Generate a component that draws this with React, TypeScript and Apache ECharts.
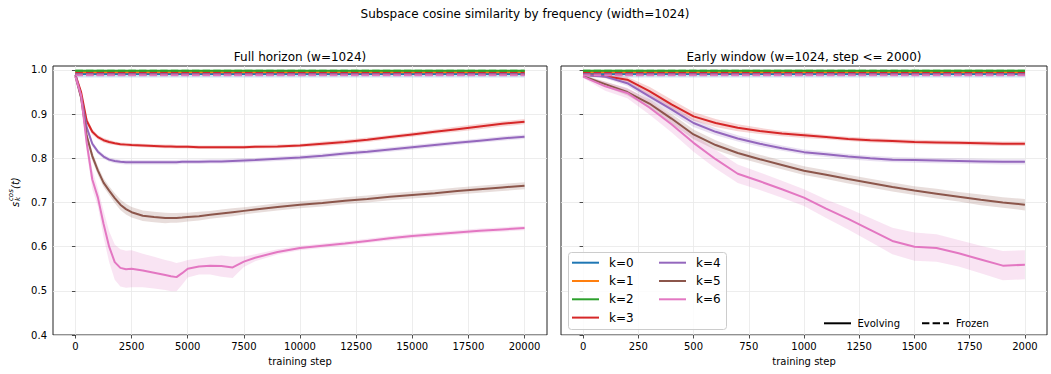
import React, { useEffect, useRef } from "react";
import * as echarts from "echarts";

// ---------- data ----------
const COLORS = ["#1f77b4", "#ff7f0e", "#2ca02c", "#d62728", "#9467bd", "#8c564b", "#e377c2"];
const K_LABELS = ["k=0", "k=1", "k=2", "k=3", "k=4", "k=5", "k=6"];

const MAIN_TITLE = "Subspace cosine similarity by frequency (width=1024)";
const PANEL_TITLES = ["Full horizon (w=1024)", "Early window (w=1024, step <= 2000)"];
const X_NAME = "training step";

const FULL_TICKS = [0, 2500, 5000, 7500, 10000, 12500, 15000, 17500, 20000];
const EARLY_TICKS = [0, 250, 500, 750, 1000, 1250, 1500, 1750, 2000];
const Y_TICKS = [0.4, 0.5, 0.6, 0.7, 0.8, 0.9, 1.0];
const FULL_RANGE = [0, 20000];
const EARLY_RANGE = [0, 2000];

// frozen (dashed) levels per k, and evolving levels for the stable low-frequency k=0..2
const FROZEN_LEVELS = [0.996, 0.997, 0.998, 0.993, 0.991, 0.989, 0.988];
const STABLE_LEVELS = [0.991, 0.995, 0.998];
const STABLE_STD = [0.008, 0.002, 0.002];

// full horizon
const FULL_STEPS = [0, 250, 500, 750, 1000, 1250, 1500, 1750, 2000, 2250, 2500, 3000, 3500, 4000, 4250, 4500, 4750, 5000, 5500, 6000, 6500, 7000, 7500, 8000, 9000, 10000, 11000, 12000, 13000, 14000, 15000, 16000, 17000, 18000, 19000, 20000];
const FULL_K3 = [0.989, 0.950, 0.885, 0.860, 0.848, 0.841, 0.837, 0.834, 0.832, 0.831, 0.830, 0.829, 0.828, 0.827, 0.827, 0.826, 0.826, 0.826, 0.825, 0.825, 0.825, 0.825, 0.825, 0.826, 0.827, 0.829, 0.833, 0.837, 0.842, 0.848, 0.854, 0.860, 0.866, 0.872, 0.878, 0.883];
const FULL_K3_STD = [0.002, 0.006, 0.008, 0.006, 0.005, 0.005, 0.005, 0.004, 0.004, 0.004, 0.004, 0.004, 0.004, 0.004, 0.004, 0.004, 0.004, 0.004, 0.004, 0.004, 0.004, 0.004, 0.004, 0.004, 0.004, 0.004, 0.005, 0.005, 0.005, 0.005, 0.005, 0.005, 0.006, 0.006, 0.006, 0.006];
const FULL_K4 = [0.989, 0.940, 0.870, 0.833, 0.815, 0.804, 0.797, 0.794, 0.792, 0.791, 0.791, 0.791, 0.791, 0.791, 0.791, 0.791, 0.792, 0.792, 0.792, 0.793, 0.793, 0.794, 0.795, 0.796, 0.799, 0.802, 0.806, 0.811, 0.815, 0.820, 0.825, 0.830, 0.835, 0.840, 0.845, 0.849];
const FULL_K4_STD = [0.002, 0.006, 0.007, 0.006, 0.005, 0.005, 0.005, 0.005, 0.005, 0.005, 0.005, 0.005, 0.005, 0.005, 0.005, 0.005, 0.005, 0.005, 0.005, 0.005, 0.005, 0.005, 0.005, 0.005, 0.005, 0.005, 0.005, 0.005, 0.005, 0.005, 0.005, 0.005, 0.005, 0.005, 0.005, 0.005];
const FULL_K5 = [0.986, 0.937, 0.851, 0.805, 0.772, 0.745, 0.727, 0.710, 0.695, 0.685, 0.678, 0.670, 0.667, 0.665, 0.665, 0.665, 0.666, 0.667, 0.669, 0.672, 0.675, 0.678, 0.681, 0.684, 0.690, 0.695, 0.699, 0.704, 0.708, 0.713, 0.717, 0.721, 0.726, 0.730, 0.734, 0.738];
const FULL_K5_STD = [0.002, 0.008, 0.010, 0.010, 0.010, 0.010, 0.010, 0.011, 0.012, 0.012, 0.012, 0.012, 0.012, 0.012, 0.011, 0.011, 0.011, 0.010, 0.010, 0.009, 0.009, 0.009, 0.008, 0.008, 0.008, 0.008, 0.008, 0.008, 0.008, 0.008, 0.008, 0.008, 0.008, 0.008, 0.008, 0.008];
const FULL_K6 = [0.985, 0.942, 0.835, 0.752, 0.711, 0.652, 0.600, 0.565, 0.552, 0.549, 0.550, 0.546, 0.541, 0.536, 0.533, 0.531, 0.540, 0.550, 0.555, 0.557, 0.556, 0.553, 0.566, 0.575, 0.588, 0.597, 0.602, 0.607, 0.613, 0.619, 0.624, 0.628, 0.632, 0.636, 0.639, 0.642];
const FULL_K6_STD = [0.003, 0.012, 0.020, 0.022, 0.020, 0.030, 0.035, 0.040, 0.042, 0.042, 0.042, 0.038, 0.036, 0.034, 0.034, 0.032, 0.026, 0.020, 0.018, 0.020, 0.024, 0.024, 0.012, 0.008, 0.006, 0.005, 0.005, 0.005, 0.005, 0.005, 0.005, 0.005, 0.005, 0.005, 0.005, 0.005];

// early window
const EARLY_STEPS = [0, 100, 200, 300, 400, 500, 600, 700, 800, 900, 1000, 1100, 1200, 1300, 1400, 1500, 1600, 1700, 1800, 1900, 2000];
const EARLY_K3 = [0.989, 0.986, 0.978, 0.952, 0.922, 0.895, 0.880, 0.869, 0.862, 0.856, 0.852, 0.848, 0.844, 0.841, 0.839, 0.837, 0.836, 0.835, 0.834, 0.833, 0.833];
const EARLY_K3_STD = [0.002, 0.004, 0.006, 0.010, 0.011, 0.010, 0.009, 0.008, 0.007, 0.006, 0.006, 0.005, 0.005, 0.005, 0.005, 0.005, 0.005, 0.005, 0.005, 0.005, 0.005];
const EARLY_K4 = [0.989, 0.985, 0.970, 0.940, 0.911, 0.880, 0.860, 0.845, 0.833, 0.823, 0.814, 0.809, 0.804, 0.800, 0.797, 0.796, 0.795, 0.794, 0.793, 0.792, 0.792];
const EARLY_K4_STD = [0.002, 0.004, 0.006, 0.008, 0.009, 0.009, 0.008, 0.007, 0.007, 0.006, 0.006, 0.006, 0.006, 0.006, 0.006, 0.006, 0.006, 0.006, 0.006, 0.006, 0.006];
const EARLY_K5 = [0.986, 0.968, 0.950, 0.924, 0.890, 0.854, 0.830, 0.812, 0.798, 0.785, 0.772, 0.763, 0.753, 0.744, 0.735, 0.727, 0.720, 0.713, 0.706, 0.700, 0.695];
const EARLY_K5_STD = [0.002, 0.006, 0.008, 0.010, 0.011, 0.011, 0.011, 0.010, 0.010, 0.010, 0.010, 0.010, 0.010, 0.010, 0.010, 0.010, 0.011, 0.011, 0.012, 0.012, 0.013];
const EARLY_K6 = [0.985, 0.963, 0.948, 0.915, 0.877, 0.835, 0.798, 0.765, 0.748, 0.730, 0.711, 0.686, 0.663, 0.638, 0.613, 0.600, 0.597, 0.585, 0.571, 0.557, 0.559];
const EARLY_K6_STD = [0.003, 0.010, 0.012, 0.016, 0.018, 0.020, 0.021, 0.021, 0.020, 0.019, 0.019, 0.021, 0.024, 0.027, 0.030, 0.032, 0.031, 0.030, 0.031, 0.033, 0.033];

const LEGEND_MODES = ["Evolving", "Frozen"];

// ---------- helpers ----------
const FONT = "DejaVu Sans";
const DASH = [7.4, 3.2];

function rgba(hex: string, a: number) {
  const n = parseInt(hex.slice(1), 16);
  return `rgba(${(n >> 16) & 255},${(n >> 8) & 255},${n & 255},${a})`;
}

type Curve = { xs: number[]; mean: number[]; std: number[] };

function panelCurves(panel: number): Curve[] {
  const range = panel === 0 ? FULL_RANGE : EARLY_RANGE;
  const steps = panel === 0 ? FULL_STEPS : EARLY_STEPS;
  const dyn = panel === 0
    ? [[FULL_K3, FULL_K3_STD], [FULL_K4, FULL_K4_STD], [FULL_K5, FULL_K5_STD], [FULL_K6, FULL_K6_STD]]
    : [[EARLY_K3, EARLY_K3_STD], [EARLY_K4, EARLY_K4_STD], [EARLY_K5, EARLY_K5_STD], [EARLY_K6, EARLY_K6_STD]];
  const out: Curve[] = [];
  for (let k = 0; k < 3; k++) {
    out.push({ xs: range, mean: [STABLE_LEVELS[k], STABLE_LEVELS[k]], std: [STABLE_STD[k], STABLE_STD[k]] });
  }
  for (const [m, s] of dyn) out.push({ xs: steps, mean: m, std: s });
  return out;
}

function buildSeries() {
  const series: any[] = [];
  for (let p = 0; p < 2; p++) {
    const range = p === 0 ? FULL_RANGE : EARLY_RANGE;
    const curves = panelCurves(p);
    curves.forEach((c, k) => {
      const color = COLORS[k];
      series.push({
        type: "custom",
        xAxisIndex: p,
        yAxisIndex: p,
        silent: true,
        data: [[c.xs[0], c.mean[0]]],
        renderItem: (_params: any, api: any) => {
          const upper = c.xs.map((x, i) => api.coord([x, c.mean[i] + c.std[i]]));
          const lower = c.xs.map((x, i) => api.coord([x, c.mean[i] - c.std[i]])).reverse();
          return {
            type: "polygon",
            shape: { points: upper.concat(lower) },
            style: { fill: rgba(color, 0.2), stroke: "none" },
          };
        },
      });
      series.push({
        type: "line",
        name: K_LABELS[k],
        xAxisIndex: p,
        yAxisIndex: p,
        showSymbol: false,
        symbol: "none",
        silent: true,
        lineStyle: { color, width: 2 },
        itemStyle: { color },
        data: c.xs.map((x, i) => [x, c.mean[i]]),
      });
      series.push({
        type: "line",
        name: K_LABELS[k] + " frozen",
        xAxisIndex: p,
        yAxisIndex: p,
        showSymbol: false,
        symbol: "none",
        silent: true,
        lineStyle: { color, width: 2, type: DASH },
        itemStyle: { color },
        data: range.map((x) => [x, FROZEN_LEVELS[k]]),
      });
    });
  }
  return series;
}

const GRIDS = [
  { left: 53, top: 66, width: 494, height: 269 },
  { left: 561, top: 66, width: 486, height: 269 },
];

function buildGraphic() {
  const g: any[] = [];
  g.push({
    type: "text", x: 525, y: 14, z: 100,
    style: { text: MAIN_TITLE, font: `12px ${FONT}`, fill: "#000", align: "center", verticalAlign: "middle" },
  });
  PANEL_TITLES.forEach((t, i) => {
    g.push({
      type: "text", x: GRIDS[i].left + GRIDS[i].width / 2, y: 57, z: 100,
      style: { text: t, font: `12px ${FONT}`, fill: "#000", align: "center", verticalAlign: "middle" },
    });
  });
  // y label  s_k^{cos}(t)
  g.push({
    type: "group", x: 15, y: 207, rotation: Math.PI / 2, z: 100,
    children: [
      { type: "text", x: 0, y: 0, style: { text: "s", font: `italic 10px ${FONT}`, fill: "#000", align: "left", verticalAlign: "middle" } },
      { type: "text", x: 6, y: -4, style: { text: "cos", font: `italic 7px ${FONT}`, fill: "#000", align: "left", verticalAlign: "middle" } },
      { type: "text", x: 6, y: 3, style: { text: "k", font: `italic 7px ${FONT}`, fill: "#000", align: "left", verticalAlign: "middle" } },
      { type: "text", x: 18, y: 0, style: { text: "(t)", font: `italic 10px ${FONT}`, fill: "#000", align: "left", verticalAlign: "middle" } },
    ],
  });
  // legend of k
  g.push({
    type: "rect", z: 100,
    shape: { x: 568.5, y: 252.5, width: 158, height: 77, r: 3 },
    style: { fill: "rgba(255,255,255,0.8)", stroke: "#cccccc", lineWidth: 1 },
  });
  K_LABELS.forEach((lab, k) => {
    const col = k < 4 ? 0 : 1;
    const row = k < 4 ? k : k - 4;
    const hx = col === 0 ? 572 : 659;
    const tx = col === 0 ? 609 : 696;
    const y = 262.7 + row * 18.3;
    g.push({ type: "line", z: 101, shape: { x1: hx, y1: y, x2: hx + 27, y2: y }, style: { stroke: COLORS[k], lineWidth: 2 } });
    g.push({ type: "text", z: 101, x: tx, y, style: { text: lab, font: `12px ${FONT}`, fill: "#000", align: "left", verticalAlign: "middle" } });
  });
  // legend of modes
  const modeX = [[824, 857.5], [922, 956]];
  LEGEND_MODES.forEach((lab, i) => {
    const y = 323.3;
    g.push({
      type: "line", z: 101, shape: { x1: modeX[i][0], y1: y, x2: modeX[i][0] + 27, y2: y },
      style: { stroke: "#000", lineWidth: 2, lineDash: i === 1 ? DASH : null },
    });
    g.push({ type: "text", z: 101, x: modeX[i][1], y, style: { text: lab, font: `10px ${FONT}`, fill: "#000", align: "left", verticalAlign: "middle" } });
  });
  return g;
}

function axisCommon() {
  return {
    axisLine: { show: false },
    axisTick: { show: true, inside: false, length: 3.5, lineStyle: { color: "#222", width: 0.8 } },
    splitLine: { show: true, lineStyle: { color: "#e8e8e8", width: 0.8 } },
  };
}

export default function App() {
  const ref = useRef<HTMLDivElement>(null);
  useEffect(() => {
    if (!ref.current) return;
    const chart = echarts.init(ref.current, undefined, { renderer: "svg" });
    const xAxes = [0, 1].map((p) => {
      const ticks = p === 0 ? FULL_TICKS : EARLY_TICKS;
      const span = (p === 0 ? FULL_RANGE : EARLY_RANGE);
      const pad = (span[1] - span[0]) * 0.05;
      const base = axisCommon();
      return {
        type: "value",
        gridIndex: p,
        min: span[0] - pad,
        max: span[1] + pad,
        name: X_NAME,
        nameLocation: "middle",
        nameGap: 21,
        nameTextStyle: { fontFamily: FONT, fontSize: 10, color: "#000" },
        ...base,
        axisTick: { ...base.axisTick, customValues: ticks },
        axisLabel: { customValues: ticks, fontFamily: FONT, fontSize: 10, color: "#000", margin: 6, formatter: (v: number) => String(v) },
      };
    });
    const yAxes = [0, 1].map((p) => {
      const base = axisCommon();
      return {
        type: "value",
        gridIndex: p,
        min: 0.4,
        max: 1.009,
        ...base,
        axisTick: { ...base.axisTick, customValues: Y_TICKS },
        axisLabel: {
          show: p === 0,
          customValues: Y_TICKS,
          fontFamily: FONT, fontSize: 10, color: "#000", margin: 6,
          formatter: (v: number) => v.toFixed(1),
        },
      };
    });
    chart.setOption({
      animation: false,
      backgroundColor: "#fff",
      grid: GRIDS.map((g) => ({ ...g, show: true, borderColor: "#222", borderWidth: 1, backgroundColor: "transparent", containLabel: false })),
      xAxis: xAxes,
      yAxis: yAxes,
      series: buildSeries(),
      graphic: buildGraphic(),
    });
    return () => chart.dispose();
  }, []);
  return <div ref={ref} style={{ position: "absolute", left: 0, top: 0, width: 1051, height: 374 }} />;
}
